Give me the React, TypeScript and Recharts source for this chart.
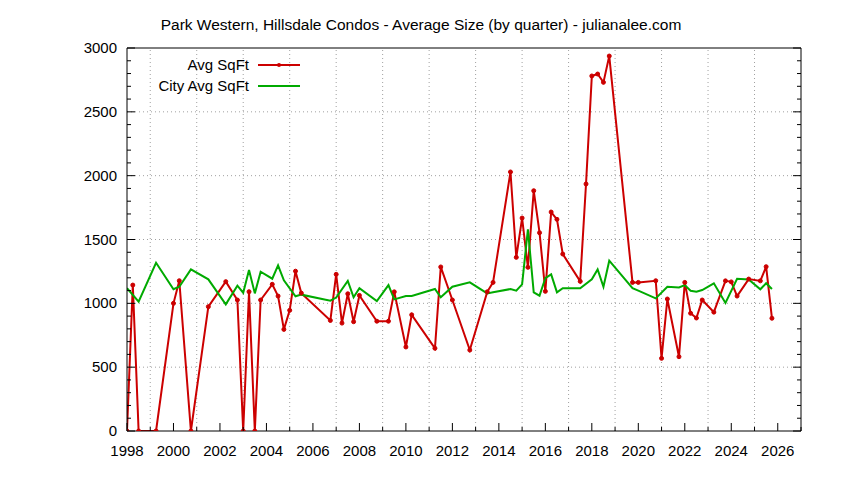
import React from 'react';
import { LineChart, Line, XAxis, YAxis, ReferenceLine, Legend } from 'recharts';

// quarterly averages, x = year + quarter fraction
const condoQuarters = [
  1998.0, 1998.25, 1998.5, 1999.25, 2000.0, 2000.25, 2000.75, 2001.5, 2002.25, 2002.75,
  2003.0, 2003.25, 2003.5, 2003.75, 2004.25, 2004.5, 2004.75, 2005.0, 2005.25, 2005.5,
  2006.75, 2007.0, 2007.25, 2007.5, 2007.75, 2008.0, 2008.75, 2009.25, 2009.5, 2010.0,
  2010.25, 2011.25, 2011.5, 2012.0, 2012.75, 2013.5, 2013.75, 2014.5, 2014.75, 2015.0,
  2015.25, 2015.5, 2015.75, 2016.0, 2016.25, 2016.5, 2016.75, 2017.5, 2017.75, 2018.0,
  2018.25, 2018.5, 2018.75, 2019.75, 2020.0, 2020.75, 2021.0, 2021.25, 2021.75, 2022.0,
  2022.25, 2022.5, 2022.75, 2023.25, 2023.75, 2024.0, 2024.25, 2024.75, 2025.25, 2025.5,
  2025.75,
];
const condoSqft = [
  0, 1143, 0, 0, 1000, 1177, 0, 974, 1170, 1026,
  0, 1091, 0, 1026, 1149, 1057, 796, 945, 1252, 1080,
  866, 1227, 845, 1075, 856, 1062, 860, 860, 1090, 658,
  910, 648, 1285, 1026, 634, 1090, 1164, 2029, 1360, 1668,
  1282, 1882, 1553, 1094, 1715, 1658, 1386, 1172, 1935, 2781,
  2796, 2731, 2937, 1164, 1164, 1177, 569, 1034, 582, 1164,
  922, 885, 1026, 931, 1176, 1168, 1057, 1190, 1176, 1287,
  883,
];

const cityQuarters = [
  1998.0, 1998.5, 1999.25, 2000.0, 2000.25, 2000.75, 2001.5, 2002.25, 2002.75, 2003.0,
  2003.25, 2003.5, 2003.75, 2004.25, 2004.5, 2004.75, 2005.25, 2005.5, 2006.75, 2007.0,
  2007.5, 2007.75, 2008.0, 2008.75, 2009.25, 2009.5, 2010.0, 2010.25, 2011.25, 2011.5,
  2012.0, 2012.75, 2013.5, 2013.75, 2014.5, 2014.75, 2015.0, 2015.25, 2015.5, 2015.75,
  2016.0, 2016.25, 2016.5, 2016.75, 2017.5, 2018.0, 2018.25, 2018.5, 2018.75, 2019.75,
  2020.0, 2020.75, 2021.25, 2021.75, 2022.0, 2022.25, 2022.5, 2022.75, 2023.25, 2023.75,
  2024.25, 2024.75, 2025.25, 2025.5, 2025.75,
];
const citySqft = [
  1118, 1013, 1318, 1110, 1130, 1266, 1188, 992, 1138, 1083,
  1261, 1078, 1248, 1193, 1298, 1180, 1055, 1068, 1021, 1045,
  1175, 1047, 1118, 1018, 1143, 1031, 1057, 1057, 1112, 1047,
  1130, 1164, 1078, 1086, 1112, 1099, 1149, 1580, 1086, 1060,
  1198, 1227, 1086, 1118, 1118, 1188, 1266, 1130, 1334, 1118,
  1099, 1039, 1130, 1125, 1143, 1099, 1091, 1104, 1157, 1003,
  1192, 1186, 1110, 1157, 1112,
];

const yearTicks = [
  1998, 1999, 2000, 2001, 2002, 2003, 2004, 2005, 2006, 2007, 2008, 2009, 2010, 2011, 2012,
  2013, 2014, 2015, 2016, 2017, 2018, 2019, 2020, 2021, 2022, 2023, 2024, 2025, 2026, 2027,
];
const yearLabels = [
  1998, 2000, 2002, 2004, 2006, 2008, 2010, 2012, 2014, 2016, 2018, 2020, 2022, 2024, 2026,
];
const yearGrid = [1999, 2001, 2003, 2005, 2007, 2009, 2011, 2013, 2015, 2017, 2019, 2021, 2023, 2025];
const sqftTicks = [
  0, 100, 200, 300, 400, 500, 600, 700, 800, 900, 1000, 1100, 1200, 1300, 1400, 1500,
  1600, 1700, 1800, 1900, 2000, 2100, 2200, 2300, 2400, 2500, 2600, 2700, 2800, 2900, 3000,
];
const sqftLabels = [0, 500, 1000, 1500, 2000, 2500, 3000];
const sqftGrid = [500, 1000, 1500, 2000, 2500];

const condoData = condoQuarters.map((x, i) => ({ x, v: condoSqft[i] }));
const cityData = cityQuarters.map((x, i) => ({ x, v: citySqft[i] }));

const RED = '#cc0000';
const GREEN = '#00aa00';
const FONT = '"Liberation Sans", Arial, sans-serif';

const BottomTick = (props: any) => {
  const { x, y, payload } = props;
  const major = yearLabels.includes(payload.value);
  return (
    <g>
      <line x1={x} x2={x} y1={y} y2={y - (major ? 8 : 4)} stroke="#000" />
      {major && (
        <text x={x} y={y + 25} textAnchor="middle" fontSize={15} fontFamily={FONT} fill="#000">
          {payload.value}
        </text>
      )}
    </g>
  );
};

const TopTick = (props: any) => {
  const { x, y, payload } = props;
  const major = yearLabels.includes(payload.value);
  return <line x1={x} x2={x} y1={y} y2={y + (major ? 8 : 4)} stroke="#000" />;
};

const LeftTick = (props: any) => {
  const { x, y, payload } = props;
  const major = sqftLabels.includes(payload.value);
  return (
    <g>
      <line x1={x} x2={x + (major ? 8 : 4)} y1={y} y2={y} stroke="#000" />
      {major && (
        <text x={x - 10} y={y + 5} textAnchor="end" fontSize={15} fontFamily={FONT} fill="#000">
          {payload.value}
        </text>
      )}
    </g>
  );
};

const RightTick = (props: any) => {
  const { x, y, payload } = props;
  const major = sqftLabels.includes(payload.value);
  return <line x1={x} x2={x - (major ? 8 : 4)} y1={y} y2={y} stroke="#000" />;
};

const LegendBox = (props: any) => {
  const items = props.payload || [];
  return (
    <svg width={300} height={46}>
      {items.map((item: any, i: number) => {
        const cy = 12 + i * 21;
        return (
          <g key={item.value}>
            <text x={241} y={cy + 5} textAnchor="end" fontSize={15} fontFamily={FONT} fill="#000">
              {item.value}
            </text>
            <line x1={250} x2={292} y1={cy} y2={cy} stroke={item.color} strokeWidth={2} />
            {i === 0 && <circle cx={271} cy={cy} r={2} fill={item.color} />}
          </g>
        );
      })}
    </svg>
  );
};

export default function App() {
  return (
    <div style={{ position: 'relative', width: 836, height: 464, background: '#fff' }}>
      <div
        style={{
          position: 'absolute',
          top: 8,
          left: 0,
          width: 826,
          textAlign: 'center',
          fontFamily: FONT,
          fontSize: 15.5,
          color: '#000',
        }}
      >
        Park Western, Hillsdale Condos - Average Size (by quarter) - julianalee.com
      </div>
      <LineChart width={836} height={464} margin={{ top: 30, right: 33, bottom: 11, left: 59 }}>
        <XAxis
          dataKey="x"
          type="number"
          domain={[1998, 2027]}
          ticks={yearTicks}
          interval={0}
          allowDataOverflow
          height={30}
          tickSize={0}
          tickMargin={0}
          tickLine={false}
          axisLine={{ stroke: '#000' }}
          tick={BottomTick}
        />
        <XAxis
          xAxisId="top"
          orientation="top"
          type="number"
          domain={[1998, 2027]}
          ticks={yearTicks}
          interval={0}
          allowDataOverflow
          height={10}
          tickSize={0}
          tickMargin={0}
          tickLine={false}
          axisLine={{ stroke: '#000' }}
          tick={TopTick}
        />
        <YAxis
          type="number"
          domain={[0, 3000]}
          ticks={sqftTicks}
          interval={0}
          allowDataOverflow
          width={60}
          tickSize={0}
          tickMargin={0}
          tickLine={false}
          axisLine={{ stroke: '#000' }}
          tick={LeftTick}
        />
        <YAxis
          yAxisId="right"
          orientation="right"
          type="number"
          domain={[0, 3000]}
          ticks={sqftTicks}
          interval={0}
          allowDataOverflow
          width={10}
          tickSize={0}
          tickMargin={0}
          tickLine={false}
          axisLine={{ stroke: '#000' }}
          tick={RightTick}
        />
        {yearGrid.map((yr) => (
          <ReferenceLine key={`gx-${yr}`} x={yr} stroke="#a0a0a0" strokeDasharray="1 3" />
        ))}
        {sqftGrid.map((v) => (
          <ReferenceLine key={`gy-${v}`} y={v} stroke="#a0a0a0" strokeDasharray="1 3" />
        ))}
        <Legend layout="vertical" align="center" verticalAlign="middle" wrapperStyle={{ left: 0, top: 45, width: 300 }} content={LegendBox} />
        <Line
          data={condoData}
          dataKey="v"
          name="Avg SqFt"
          type="linear"
          stroke={RED}
          strokeWidth={2}
          dot={{ r: 2, fill: RED, stroke: RED, strokeWidth: 1 }}
          isAnimationActive={false}
        />
        <Line
          data={cityData}
          dataKey="v"
          name="City Avg SqFt"
          type="linear"
          stroke={GREEN}
          strokeWidth={2}
          dot={false}
          isAnimationActive={false}
        />
      </LineChart>
    </div>
  );
}
